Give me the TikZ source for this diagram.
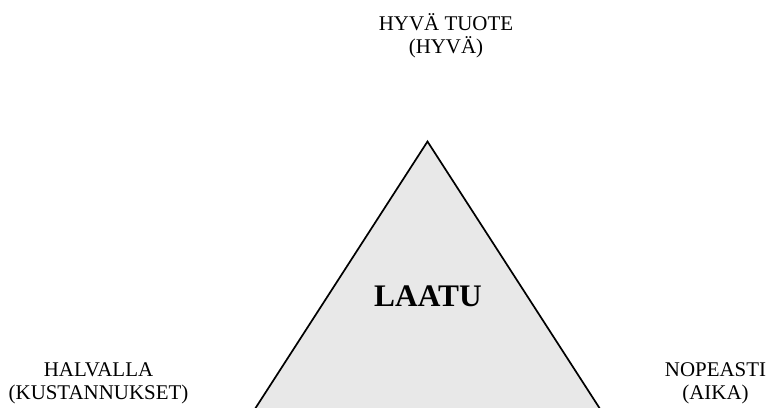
\documentclass[tikz,border=0pt]{standalone}
\usepackage{fontspec}
\setmainfont{Liberation Serif}
\definecolor{triFill}{RGB}{232,232,232}
\tikzset{
  cornerlabel/.style={align=center, inner sep=0pt, anchor=base,
    font=\fontsize{21}{23}\selectfont},
  qualitylabel/.style={inner sep=0pt, anchor=base,
    font=\bfseries\fontsize{31.5}{36}\selectfont},
  triangleline/.style={fill=triFill, line width=1.7bp, line join=miter}
}
\begin{document}
\begin{tikzpicture}[x=1bp, y=-1bp]
\useasboundingbox (0,0) rectangle (768,407);
% the triangle runs past the lower edge, so clip it there
\begin{scope}
  \clip (0,0) rectangle (768,407);
  \coordinate (apex) at (427.5,141.5);
  \coordinate (baseR) at (633,460);
  \coordinate (baseL) at (222,460);
  \draw[triangleline] (apex) -- (baseR) -- (baseL) -- cycle;
\end{scope}
\node[qualitylabel] (quality) at (428,306.5) {LAATU};
% base anchor sits on the last line of each two-line label
\node[cornerlabel] (good) at (446,53) {HYVÄ TUOTE\\(HYVÄ)};
\node[cornerlabel] (cheap) at (98.5,399.5) {HALVALLA\\(KUSTANNUKSET)};
\node[cornerlabel] (fast) at (715.5,399.5) {NOPEASTI\\(AIKA)};
\end{tikzpicture}
\end{document}
